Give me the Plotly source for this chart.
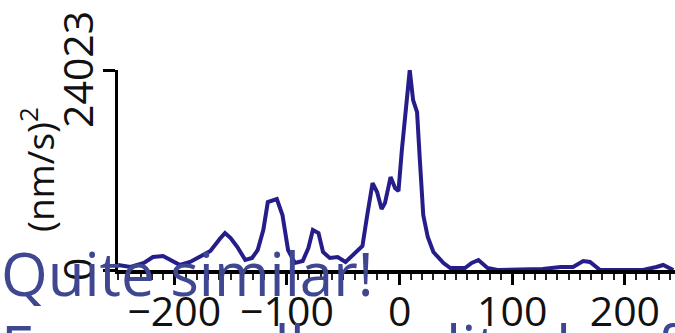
import plotly.graph_objects as go

# Velocity power spectrum trace: lag (x) vs power in (nm/s)^2
lag = [-250, -239, -227, -219, -210, -204, -195, -186, -177, -168,
       -159, -155, -150, -144, -137, -131, -126, -121, -117, -113,
       -109, -104, -99, -93, -86, -81, -77, -72, -68, -62,
       -55, -48, -41, -33, -29, -24, -20, -16, -13, -8,
       -4, -1, 2, 6, 9, 12, 15.5, 18, 21, 25,
       30, 39, 45, 58, 64, 70, 78, 87, 107, 127,
       143, 154, 163, 169, 178, 216, 228, 234, 243]
power = [600, 360, 840, 1560, 1680, 1200, 600, 960, 1560, 2280,
         3840, 4440, 3840, 2760, 1200, 1440, 2400, 4800, 8160, 8400,
         8520, 6600, 2400, 840, 1080, 2640, 4800, 4440, 2160, 1440,
         1560, 960, 1800, 2880, 6360, 10440, 9360, 7320, 8040, 11160,
         9840, 9480, 14400, 19440, 24023, 20400, 18960, 13200, 6600, 3960,
         2160, 840, 240, 240, 840, 1200, 240, 0, 120, 120,
         360, 360, 1080, 960, 0, 0, 360, 600, 0]

x_ticks = [-200, -100, 0, 100, 200]
y_ticks = [0, 24023]
y_ticktext = ["0", "24023"]
y_title = "(nm/s)<sup>2</sup>"
caption_lines = ["Quite similar!", "For a small amplitude of"]

W, H = 675, 333
L, R, T, B = 118, 0, 70, 63

fig = go.Figure()
fig.add_trace(go.Scatter(
    x=lag, y=power, mode="lines",
    line=dict(color="#241d8a", width=4),
    hoverinfo="skip", showlegend=False,
))

label_font = dict(family="Open Sans", size=41, color="#111111")

fig.update_xaxes(
    range=[-250, 244.5],
    showline=True, linewidth=3.5, linecolor="black",
    ticks="outside", ticklen=11, tickwidth=2.5, tickcolor="black",
    tickvals=x_ticks, tickfont=label_font, ticklabelstandoff=-8,
    minor=dict(dtick=10, ticks="outside", ticklen=6, tickwidth=2, tickcolor="#222222"),
    showgrid=False, zeroline=False,
)
fig.update_yaxes(
    range=[0, 24023],
    showline=True, linewidth=3, linecolor="black",
    ticks="outside", ticklen=12, tickwidth=2.5, tickcolor="black",
    tickvals=y_ticks, showticklabels=False,
    showgrid=False, zeroline=False,
)

plot_w = W - L - R
plot_h = H - T - B

def px_x(px):
    return (px - L) / plot_w

def px_y(py):
    return (H - B - py) / plot_h

# Vertical tick labels, placed at the tick values on the y scale
for val, txt in zip(y_ticks, y_ticktext):
    fig.add_annotation(
        text=txt, xref="paper", yref="y", x=px_x(77), y=val,
        xanchor="center", yanchor="middle", textangle=-90,
        showarrow=False, font=label_font,
    )

# Rotated y-axis title
fig.add_annotation(
    text=y_title, xref="paper", yref="paper", x=px_x(37), y=0.5,
    xanchor="center", yanchor="middle", textangle=-90,
    showarrow=False, font=dict(family="Open Sans", size=37, color="#111111"),
)

caption_tops = [230, 303]
for text, top in zip(caption_lines, caption_tops):
    fig.add_annotation(
        text=text, xref="paper", yref="paper",
        x=px_x(-1), y=px_y(top), xanchor="left", yanchor="top",
        showarrow=False, align="left",
        font=dict(family="Open Sans", size=60, color="#3e4790"),
    )

fig.update_layout(
    width=W, height=H,
    margin=dict(l=L, r=R, t=T, b=B, autoexpand=False),
    paper_bgcolor="white", plot_bgcolor="white",
)

fig.write_html("out.html", config={"displayModeBar": False})
